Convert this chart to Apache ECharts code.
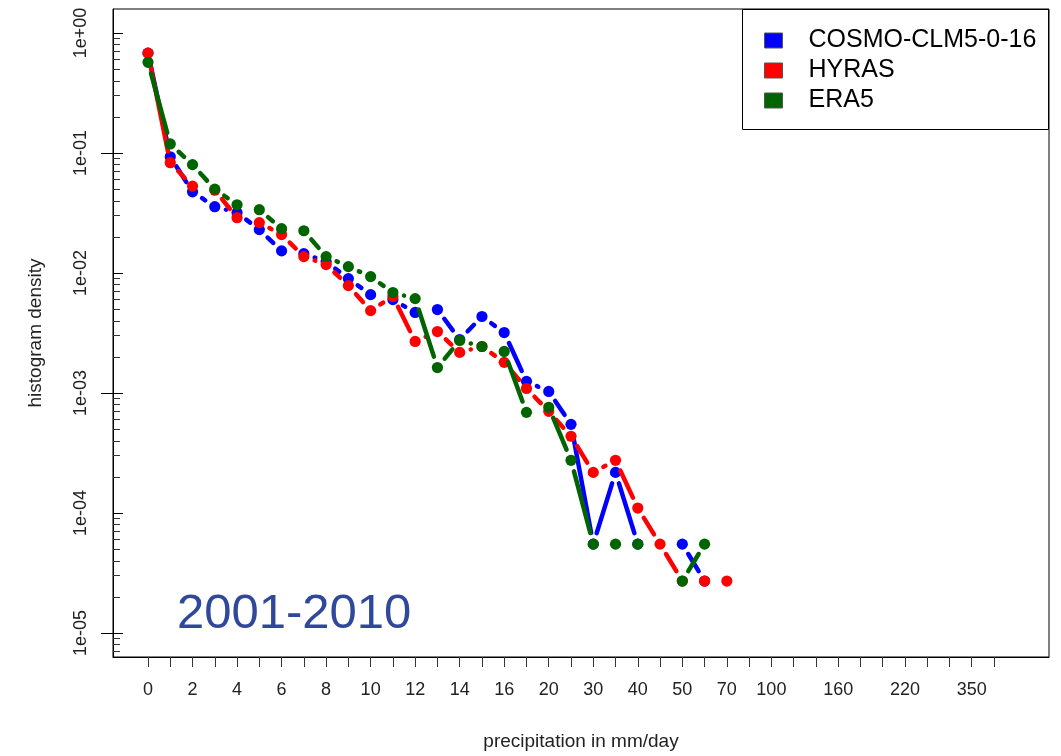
<!DOCTYPE html>
<html>
<head>
<meta charset="utf-8">
<script src="https://cdn.jsdelivr.net/npm/echarts@6/dist/echarts.min.js"></script>
<style>
html,body{margin:0;padding:0;background:#fff;}
#chart{width:1061px;height:756px;}
</style>
</head>
<body>
<div id="chart"></div>
<script>
// x categories (bins), one per tick
const categories = ['0','1','2','3','4','5','6','7','8','9','10','11','12','13','14','15','16',
  '18','20','25','30','35','40','45','50','60','70','80','100','120','140','160','180','200',
  '220','250','300','350','400'];
// tick labels actually printed
const shownLabels = ['0','2','4','6','8','10','12','14','16','20','30','40','50','70','100','160','220','350'];
// y tick labels (decades)
const yDecades = [-5,-4,-3,-2,-1,0];

const seriesNames = ['COSMO-CLM5-0-16','HYRAS','ERA5'];
// histogram density per bin index (null = empty bin)
const cosmo = [0.68,0.093,0.0475,0.0357,0.0318,0.0230,0.0153,0.0145,0.01244,0.00898,0.0066,0.0060,0.00469,0.00496,0.00279,0.00434,0.00319,
  0.00125,0.00103,0.000548,0.000055,0.000218,0.000055,null,0.000055,0.0000271,null];
const hyras = [0.68,0.083,0.053,0.049,0.0289,0.0263,0.0209,0.0137,0.01175,0.00785,0.00486,0.00637,0.00269,0.00325,0.00218,0.00244,0.00180,
  0.00109,0.000703,0.000436,0.000218,0.000275,0.000110,0.000055,0.0000271,0.0000271,0.0000271];
const era5 = [0.57,0.119,0.080,0.050,0.037,0.0337,0.0234,0.0225,0.0137,0.0113,0.00933,0.00687,0.00612,0.00163,0.00274,0.00244,0.00222,
  0.00069,0.00076,0.000275,0.000055,0.000055,0.000055,null,0.0000271,0.000055,null];
const colors = ['#0000ff','#ff0000','#006400'];

const GAP = 11.5;
function makeSeries(name, color, vals) {
  const data = [];
  vals.forEach((v, i) => { if (v != null) data.push([i, Math.log10(v)]); });
  return {
    type: 'custom',
    name: name,
    coordinateSystem: 'cartesian2d',
    xAxisIndex: 0, yAxisIndex: 0,
    itemStyle: { color: color },
    encode: { x: 0, y: 1 },
    data: data,
    clip: false,
    renderItem: function (params, api) {
      const i = api.value(0);
      const p = api.coord([i, api.value(1)]);
      const children = [];
      const nv = vals[i + 1];
      if (nv != null) {
        const q = api.coord([i + 1, Math.log10(nv)]);
        const dx = q[0] - p[0], dy = q[1] - p[1];
        const L = Math.hypot(dx, dy);
        if (L > 2 * GAP) {
          const ux = dx / L, uy = dy / L;
          children.push({
            type: 'line',
            shape: { x1: p[0] + ux * GAP, y1: p[1] + uy * GAP, x2: q[0] - ux * GAP, y2: q[1] - uy * GAP },
            style: { stroke: color, lineWidth: 4.5, lineCap: 'round' }
          });
        }
      }
      children.push({ type: 'circle', shape: { cx: p[0], cy: p[1], r: 5.6 }, style: { fill: color } });
      return { type: 'group', children: children };
    }
  };
}

const minorVals = [];
for (let d = -6; d <= 0; d++) {
  for (let k = 2; k <= 9; k++) {
    const v = d + Math.log10(k);
    if (v >= -5.2 && v <= 0.2) minorVals.push(v);
  }
}
const allTicks = categories.map((c, i) => i);
const labelTicks = shownLabels.map(s => categories.indexOf(s));

function fmtY(v) {
  const e = Math.round(v);
  const a = Math.abs(e);
  return '1e' + (e < 0 ? '-' : '+') + (a < 10 ? '0' : '') + a;
}

const FONT = 'Liberation Sans, Arial, Helvetica, sans-serif';
const chart = echarts.init(document.getElementById('chart'), null, { renderer: 'canvas' });
const yBase = { type: 'value', min: -5.2, max: 0.2, position: 'left', splitLine: { show: false } };
chart.setOption({
  animation: false,
  backgroundColor: '#fff',
  grid: { left: 113, right: 12, top: 9, bottom: 98, show: true, borderColor: '#000', borderWidth: 1, backgroundColor: 'transparent' },
  legend: {
    left: 764, top: 28, orient: 'vertical', itemWidth: 18, itemHeight: 15, itemGap: 5, padding: 0,
    icon: 'rect',
    textStyle: { fontFamily: FONT, fontSize: 25, color: '#000', lineHeight: 25, padding: [0, 0, 0, 21] },
    data: seriesNames.map((n, i) => ({ name: n, icon: 'rect', itemStyle: { color: colors[i], borderColor: '#555', borderWidth: 1 } }))
  },
  graphic: [
    { type: 'rect', shape: { x: 742.5, y: 9.5, width: 306, height: 120 }, style: { fill: 'none', stroke: '#000', lineWidth: 1 }, z: 100 },
    { type: 'text', left: 177, top: 590, style: { text: '2001-2010', font: '49px ' + FONT, fill: '#30489a' }, z: 100 }
  ],
  xAxis: {
    type: 'value', min: -1.572, max: 40.47,
    axisLine: { show: true, onZero: false, lineStyle: { color: '#000', width: 1 } },
    splitLine: { show: false },
    axisTick: { show: true, length: 10, customValues: allTicks, lineStyle: { color: '#333' } },
    axisLabel: { customValues: labelTicks, formatter: v => categories[Math.round(v)], fontFamily: FONT, fontSize: 18, color: '#222', margin: 24 },
    name: 'precipitation in mm/day', nameLocation: 'middle', nameGap: 75,
    nameTextStyle: { fontFamily: FONT, fontSize: 19, color: '#222' }
  },
  yAxis: [
    Object.assign({}, yBase, {
      axisLine: { show: true, onZero: false, lineStyle: { color: '#000', width: 1 } },
      axisTick: { show: true, length: 12, customValues: [-5, -3, -1], lineStyle: { color: '#000' } },
      axisLabel: { customValues: yDecades, formatter: fmtY, rotate: 90, fontFamily: FONT, fontSize: 18, color: '#222', margin: 23 },
      name: 'histogram density', nameLocation: 'middle', nameGap: 68, nameRotate: 90,
      nameTextStyle: { fontFamily: FONT, fontSize: 19, color: '#222' }
    }),
    Object.assign({}, yBase, {
      axisLine: { show: false, onZero: false },
      axisTick: { show: true, inside: true, length: 10, customValues: yDecades, lineStyle: { color: '#000' } },
      axisLabel: { show: false }
    }),
    Object.assign({}, yBase, {
      axisLine: { show: false, onZero: false },
      axisTick: { show: true, inside: true, length: 7, customValues: minorVals, lineStyle: { color: '#333' } },
      axisLabel: { show: false }
    })
  ],
  series: [
    makeSeries(seriesNames[0], colors[0], cosmo),
    makeSeries(seriesNames[1], colors[1], hyras),
    makeSeries(seriesNames[2], colors[2], era5)
  ]
});
</script>
</body>
</html>
